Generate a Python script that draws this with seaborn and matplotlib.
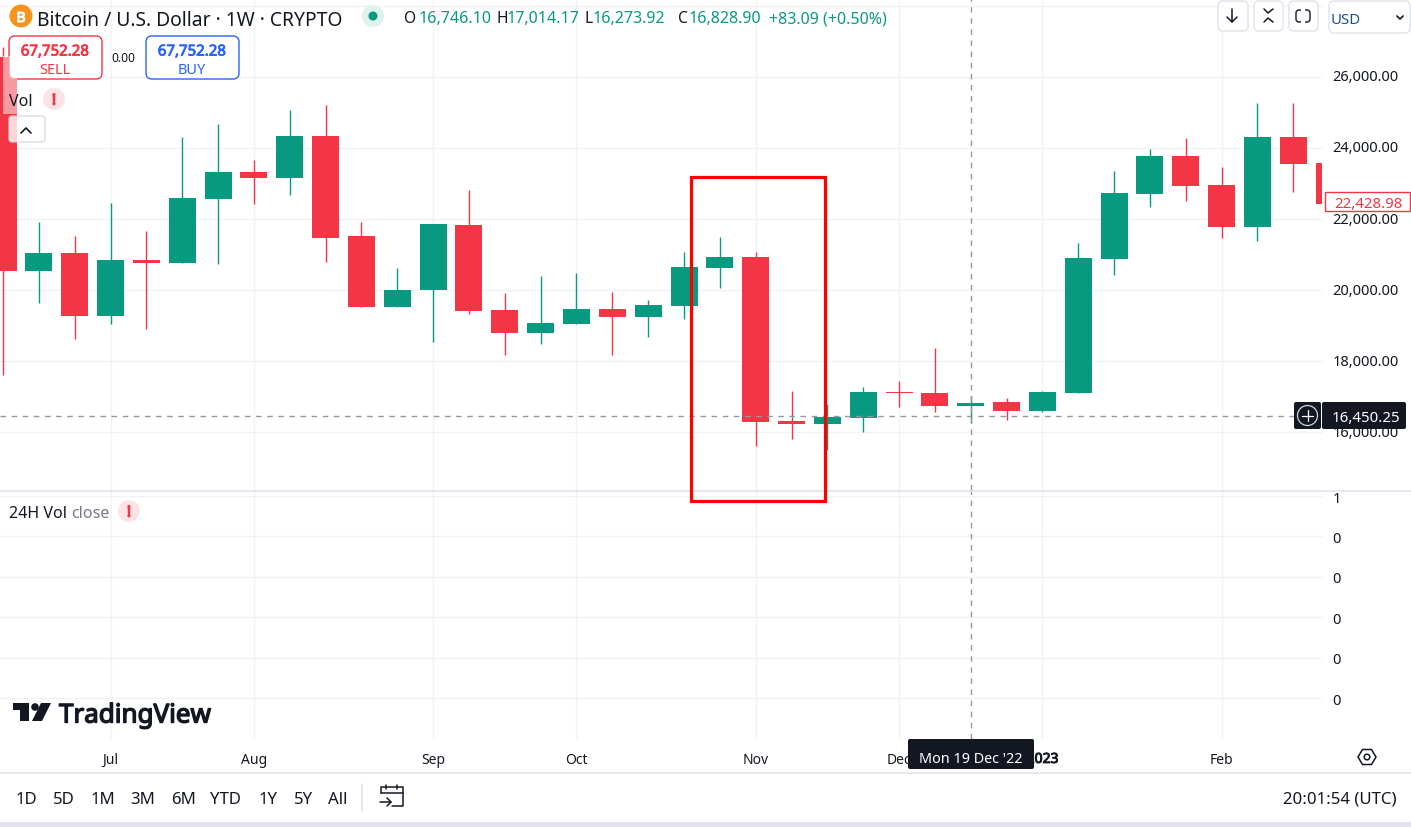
# TradingView BTC weekly chart screenshot

import matplotlib
matplotlib.use("Agg")
import matplotlib.pyplot as plt
import matplotlib.patheffects as pe
from matplotlib.patches import Rectangle, Circle, FancyBboxPatch, Polygon
import pandas as pd
import seaborn as sns

sns.set_theme(style="white")
plt.rcParams['font.family'] = ['Noto Sans', 'DejaVu Sans']

W, H = 1411, 828
GREEN = "#089981"
RED = "#f23645"
BLUE = "#2962ff"
DARK = "#131722"
GRID = "#f1f2f5"
BORDER = "#e0e3eb"

opens = [26563, 20543, 21049, 19277, 20852, 20768, 22569, 23328, 23159, 24340,
         21528, 19530, 20008, 21837, 19446, 18799, 19052, 19474, 19249, 19558,
         20627, 20937, 16323, 16239, 16408, 17139, 17111, 16746, 16858, 16605,
         17111, 20881, 22709, 23778, 22962, 21781, 24312, 23581]
closes = [20543, 21049, 19277, 20852, 20768, 22597, 23328, 23159, 24340, 21471,
          19530, 20008, 21865, 19418, 18799, 19080, 19474, 19249, 19587, 20655,
          20937, 16295, 16239, 16436, 17139, 17111, 16745, 16829, 16605, 17139,
          20909, 22737, 23778, 22934, 21781, 24312, 23553, 22429]
highs = [26844, 21921, 21528, 22456, 21668, 24312, 24678, 23666, 25072, 25212,
         21921, 20627, 21865, 22822, 19924, 20402, 20487, 19952, 19727, 21077,
         21500, 21077, 17167, 16802, 17280, 17449, 18377, 17014, 16970, 17167,
         21331, 23357, 23975, 24284, 23468, 25268, 25268, 23581]
lows = [17617, 19643, 18630, 19052, 18911, 20768, 20740, 22428, 22681, 20796,
        19530, 19530, 18546, 19333, 18180, 18490, 19052, 18180, 18686, 19193,
        20065, 15620, 15817, 15508, 16014, 16717, 16577, 16274, 16352, 16577,
        17111, 20430, 22344, 22512, 21471, 21387, 22766, 22429]

price_ticks = [16000, 18000, 20000, 22000, 24000, 26000, 28000]
vol_ticks = [0, 1, 2, 3, 4, 5]
vol_labels = ["0", "0", "0", "0", "0", "1"]
month_pos = [3, 7, 12, 16, 21, 25, 29, 34]
month_labels = ["Jul", "Aug", "Sep", "Oct", "Nov", "Dec", "2023", "Feb"]
ranges = ["1D", "5D", "1M", "3M", "6M", "YTD", "1Y", "5Y", "All"]
range_x = [16, 53, 91, 130, 171, 210, 259, 294, 328]
last_price = 16450.25
cross_idx = 27


def px_axes(fig, x0, y0, x1, y1, **kw):
    return fig.add_axes([x0 / W, 1 - y1 / H, (x1 - x0) / W, (y1 - y0) / H], **kw)


df = pd.DataFrame({"idx": range(len(opens)), "open": opens, "close": closes, "high": highs, "low": lows})
df["body"] = (df["close"] - df["open"]).abs()
df["bottom"] = df[["open", "close"]].min(axis=1)
df["up"] = df["close"] >= df["open"]

fig = plt.figure(figsize=(W / 100, H / 100), dpi=100, facecolor="white")
ax = px_axes(fig, 0, 0, 1322, 491)
vol = px_axes(fig, 0, 491, 1322, 740)

# candles
for up, col in [(True, GREEN), (False, RED)]:
    sub = df[df["up"] == up]
    ax.vlines(sub["idx"], sub["low"], sub["high"], color=col, lw=1.0, zorder=3)
    sns.barplot(data=sub, x="idx", y="body", bottom=sub["bottom"].values, native_scale=True,
                color=col, saturation=1, width=0.753, linewidth=0, ax=ax, zorder=4)

ax.set_xlim(-0.084, 36.80)
ax.set_ylim(14379, 28191)
ax.set_yticks(price_ticks)
ax.set_yticklabels([f"{p:,.2f}" for p in price_ticks[:-1]] + [""])
ax.set_xticks(month_pos)
ax.set_xticklabels([])
ax.set_xlabel("")
ax.set_ylabel("")

vol.set_xlim(-0.084, 36.80)
vol.set_ylim(-1.015, 5.15)
vol.set_yticks(vol_ticks)
vol.set_yticklabels(vol_labels)
vol.set_xticks(month_pos)
vol.set_xticklabels(month_labels)

for a in (ax, vol):
    a.yaxis.tick_right()
    a.grid(True, color=GRID, lw=1)
    a.set_axisbelow(True)
    a.tick_params(axis="y", length=0, pad=7.4, labelsize=10.5, labelcolor=DARK)
    a.tick_params(axis="x", length=0, pad=9.3, labelsize=10, labelcolor=DARK)
    for s in a.spines.values():
        s.set_visible(False)
for lab in ax.get_yticklabels():
    lab.set_verticalalignment("center")

# the installed Noto Sans has no bold cut here, so thicken with a stroke
vol.get_xticklabels()[6].set_path_effects([pe.withStroke(linewidth=0.7, foreground=DARK)])

# crosshair
ax.axhline(last_price, color="#9598a1", lw=1, dashes=(4, 4), zorder=5)
for a in (ax, vol):
    a.axvline(cross_idx, color="#9598a1", lw=1, dashes=(4, 4), zorder=5)

# everything else is page furniture, in pixels
ov = fig.add_axes([0, 0, 1, 1], zorder=10)
ov.set_xlim(0, W)
ov.set_ylim(H, 0)
ov.axis("off")
ov.patch.set_alpha(0)


def txt(x, y, s, size=13, color=DARK, ha="left", bold=0, **kw):
    t = ov.text(x, y, s, fontsize=size * 0.72, color=color, ha=ha, va="center_baseline", zorder=8, **kw)
    if bold:
        t.set_path_effects([pe.withStroke(linewidth=bold, foreground=color)])


def rbox(x0, y0, x1, y1, ec=BORDER, fc="white", lw=1, r=4, **kw):
    ov.add_patch(FancyBboxPatch((x0 + r, y0 + r), x1 - x0 - 2 * r, y1 - y0 - 2 * r,
                                boxstyle=f"round,pad={r}", ec=ec, fc=fc, lw=lw, **kw))


def seg(xs, ys, color=DARK, lw=1.1):
    ov.plot(xs, ys, color=color, lw=lw, solid_capstyle="round")


# pane separators and bottom bar
seg([0, W], [491.5, 491.5], BORDER, 1.2)
seg([0, W], [774.5, 774.5], BORDER, 1.2)
ov.add_patch(Rectangle((0, 823), W, 5, fc=BORDER, ec="none"))

# annotation box
ov.add_patch(Rectangle((691, 178), 134, 324, fc="none", ec="#ff0000", lw=2.3, zorder=6))

# header
ov.add_patch(Circle((21, 17), 11.5, fc="#f7931a", ec="none"))
txt(21, 17.5, "B", 14, "white", ha="center", bold=0.8)
txt(37, 18, "Bitcoin / U.S. Dollar · 1W · CRYPTO", 19.3)
ov.add_patch(Circle((373, 17), 11, fc="#dff2ee", ec="none"))
ov.add_patch(Circle((373, 17), 4.5, fc=GREEN, ec="none"))
for x, letter in [(404, "O"), (497, "H"), (585, "L"), (678, "C")]:
    txt(x, 17, letter, 15.5)
for x, val in [(419, "16,746.10"), (507, "17,014.17"), (593, "16,273.92"), (689, "16,828.90"), (769, "+83.09 (+0.50%)")]:
    txt(x, 17, val, 16, GREEN)

# sell / buy
rbox(9, 37, 102, 80, ec=RED, r=6)
txt(55, 51, "67,752.28", 15, RED, ha="center", bold=0.6)
txt(55, 68, "SELL", 14.5, RED, ha="center")
txt(123, 57, "0.00", 12, DARK, ha="center")
rbox(146, 37, 239, 80, ec=BLUE, r=6)
txt(192, 51, "67,752.28", 15, BLUE, ha="center", bold=0.6)
txt(192, 68, "BUY", 14.5, BLUE, ha="center")

# legend rows
ov.add_patch(Rectangle((3, 57), 14, 58, fc="white", ec="none", alpha=0.5))
txt(9, 100, "Vol", 16)
ov.add_patch(Circle((54, 100), 11, fc="#fde3e5", ec="none"))
txt(54, 100, "!", 15, RED, ha="center", bold=1.0)
rbox(9, 117, 45, 143, ec="#d1d4dc", fc="#ffffff", r=3, alpha=0.8)
seg([21, 26, 31], [134, 129, 134], DARK, 1.2)
txt(9, 512, "24H Vol", 16)
txt(71, 512, "close", 16, "#787b86")
ov.add_patch(Circle((129, 512), 11, fc="#fde3e5", ec="none"))
txt(129, 512, "!", 15, RED, ha="center", bold=1.0)

# top right buttons
rbox(1218, 2, 1248, 32, r=5)
rbox(1254, 2, 1283, 32, r=5)
rbox(1289, 2, 1318, 32, r=5)
rbox(1329, 2, 1410, 34, r=5)
seg([1232, 1232], [10, 23])
seg([1227, 1232, 1237], [18, 23, 18])
seg([1264, 1268, 1273], [10, 14, 10])
seg([1264, 1268, 1273], [23, 19, 23])
rbox(1296, 11, 1310, 23, ec=DARK, fc="none", r=3)
ov.add_patch(Rectangle((1301, 9), 4, 16, fc="white", ec="none", zorder=3))
txt(1331, 19, "USD", 15, "#1e4f8f")
seg([1397, 1400, 1403], [17, 20, 17], DARK, 1.2)

# price tags
ov.add_patch(Rectangle((1325, 193), 85, 19, fc="white", ec=RED, lw=1))
txt(1334, 203, "22,428.98", 15, RED)
rbox(1294, 403, 1321, 430, ec="none", fc=DARK, r=2)
ov.add_patch(Circle((1307.5, 416.5), 10, fc="none", ec="#d1d4dc", lw=0.9))
seg([1302, 1313], [416.5, 416.5], "white", 0.9)
seg([1307.5, 1307.5], [411, 422], "white", 0.9)
rbox(1322, 403, 1406, 430, ec="none", fc=DARK, r=2)
txt(1366, 416.5, "16,450.25", 15, "white", ha="center")

# logo
ov.add_patch(Polygon([(13, 704), (29, 704), (29, 722), (20, 722), (20, 711), (13, 711)], fc=DARK, ec="none"))
ov.add_patch(Circle((35, 708), 3.8, fc=DARK, ec="none"))
ov.add_patch(Polygon([(41, 704), (51, 704), (42, 722), (32, 722)], fc=DARK, ec="none"))
txt(59, 714, "TradingView", 26, bold=1.0)

# date label
rbox(908, 740, 1034, 770, ec="none", fc=DARK, r=2)
txt(971, 758, "Mon 19 Dec '22", 14.4, "white", ha="center")

# settings hexagon
ov.add_patch(Polygon([(1358, 758), (1362.5, 750.5), (1371.5, 750.5), (1376, 758), (1371.5, 765.5), (1362.5, 765.5)],
                     fc="none", ec=DARK, lw=1.1))
ov.add_patch(Circle((1367, 758), 2.8, fc="none", ec=DARK, lw=1.1))

# bottom toolbar
for x, s in zip(range_x, ranges):
    txt(x, 798, s, 16.8)
seg([361.5, 361.5], [785, 812], BORDER, 1.2)
seg([381, 381, 403, 403, 392], [794, 788, 788, 807, 807])
seg([381, 403], [794, 794])
seg([386, 386], [786, 790])
seg([397, 397], [786, 790])
seg([380, 391], [803, 803])
seg([387, 391, 387], [799, 803, 807])
txt(1397, 798, "20:01:54 (UTC)", 16.8, ha="right")

fig.savefig("out.png", dpi=100, facecolor="white")
